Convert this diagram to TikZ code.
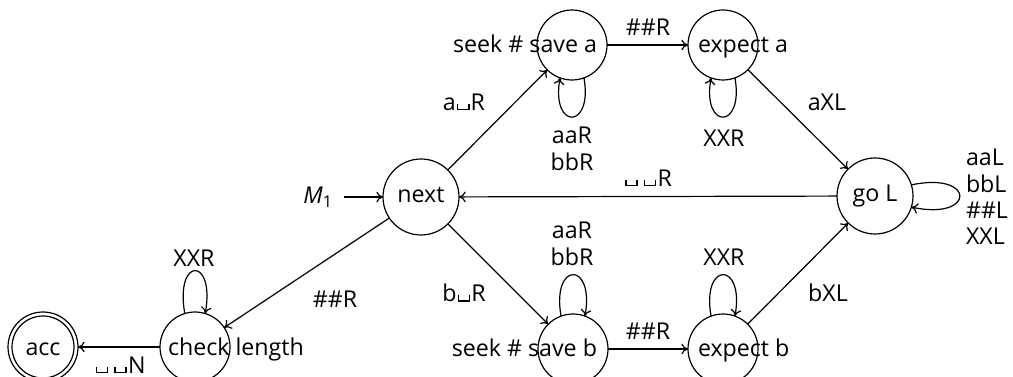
\documentclass[tikz,border=0pt]{standalone}
\usepackage{fontspec}
\setmainfont{Open Sans}
\usetikzlibrary{arrows.meta}
\newcommand{\vblank}{\hbox{\kern0.05em\vrule width 0.06em height 0.28em depth 0pt\vrule width 0.42em height 0.06em depth 0pt\vrule width 0.06em height 0.28em depth 0pt\kern0.05em}}
\begin{document}
\begin{tikzpicture}[x=0.75pt,y=0.75pt,
  every node/.style={font=\fontsize{17.4}{19.8}\selectfont},
  st/.style={draw,circle,line width=0.9pt,minimum size=52.5pt,inner sep=0pt,outer sep=0pt},
  big/.style={st,minimum size=57pt},
  txt/.style={inner sep=0pt,outer sep=0pt},
  lab/.style={inner sep=0pt,outer sep=0pt,align=center},
  edge/.style={line width=0.9pt,-{To[length=5pt,width=8pt]}}]
\useasboundingbox (0,0) rectangle (1013,-377);
% states
\node[big] (next) at (421,-197) {};
\node[st] (saveA) at (572,-45) {};
\node[st] (expA) at (723,-45) {};
\node[big] (goL) at (875,-196) {};
\node[st] (saveB) at (573,-349) {};
\node[st] (expB) at (723,-349) {};
\node[st] (check) at (195,-347) {};
\node[st] (acc) at (43,-347) {};
\draw[line width=0.9pt] (acc.center) circle[radius=31];
% state texts
\node[txt,anchor=base] (tnext) at (421,-203) {next};
\node[txt,anchor=base] (tgoL) at (875,-202) {go L};
\node[txt,anchor=base] (tacc) at (43,-355) {acc};
\node[txt,anchor=base east] (tsaveA) at (597,-53) {seek \# save a};
\node[txt,anchor=base west] (texpA) at (698,-53) {expect a};
\node[txt,anchor=base east] (tsaveB) at (597,-356) {seek \# save b};
\node[txt,anchor=base west] (texpB) at (698,-356) {expect b};
\node[txt,anchor=base west] (tcheck) at (168,-355) {check length};
% start
\node[txt] (m1) at (318,-197) {\textit{M}\textsubscript{1}};
\coordinate (start) at (344,-197);
\draw[edge] (start) -- (next);
% edges
\draw[edge] (next) -- (saveA);
\draw[edge] (saveA) -- (expA);
\draw[edge] (expA) -- (goL);
\draw[edge] (goL) -- (next);
\draw[edge] (next) -- (saveB);
\draw[edge] (saveB) -- (expB);
\draw[edge] (expB) -- (goL);
\draw[edge] (next) -- (check);
\draw[edge] (check) -- (acc);
% loops
\draw[edge] (saveA.-70) .. controls +(-80:53) and +(-100:53) .. (saveA.-110);
\draw[edge] (expA.-70) .. controls +(-80:53) and +(-100:53) .. (expA.-110);
\draw[edge] (saveB.110) .. controls +(100:56) and +(80:56) .. (saveB.70);
\draw[edge] (expB.110) .. controls +(100:56) and +(80:56) .. (expB.70);
\draw[edge] (check.107) .. controls +(100:58) and +(80:58) .. (check.73);
\draw[edge] (goL.17) .. controls +(12:66) and +(-12:66) .. (goL.-17);
% labels
\node[lab] (l1) at (648,-27) {\#\#R};
\node[lab] (l2) at (648,-331) {\#\#R};
\node[lab] (l3) at (464,-102) {a\vblank R};
\node[lab] (l4) at (464,-293) {b\vblank R};
\node[lab] (l5) at (827,-102) {aXL};
\node[lab] (l6) at (828,-293) {bXL};
\node[lab] (l7) at (648,-178) {\vblank\,\vblank R};
\node[lab] (l8) at (335,-299) {\#\#R};
\node[lab] (l9) at (120,-365) {\vblank\,\vblank N};
\node[lab] (l10) at (194,-258) {XXR};
\node[lab] (l11) at (572,-149) {aaR\\bbR};
\node[lab] (l12) at (572,-244) {aaR\\bbR};
\node[lab] (l13) at (724,-138) {XXR};
\node[lab] (l14) at (724,-257) {XXR};
\node[lab,anchor=west,align=left] (l15) at (966,-197) {aaL\\bbL\\\#\#L\\XXL};
\end{tikzpicture}
\end{document}
